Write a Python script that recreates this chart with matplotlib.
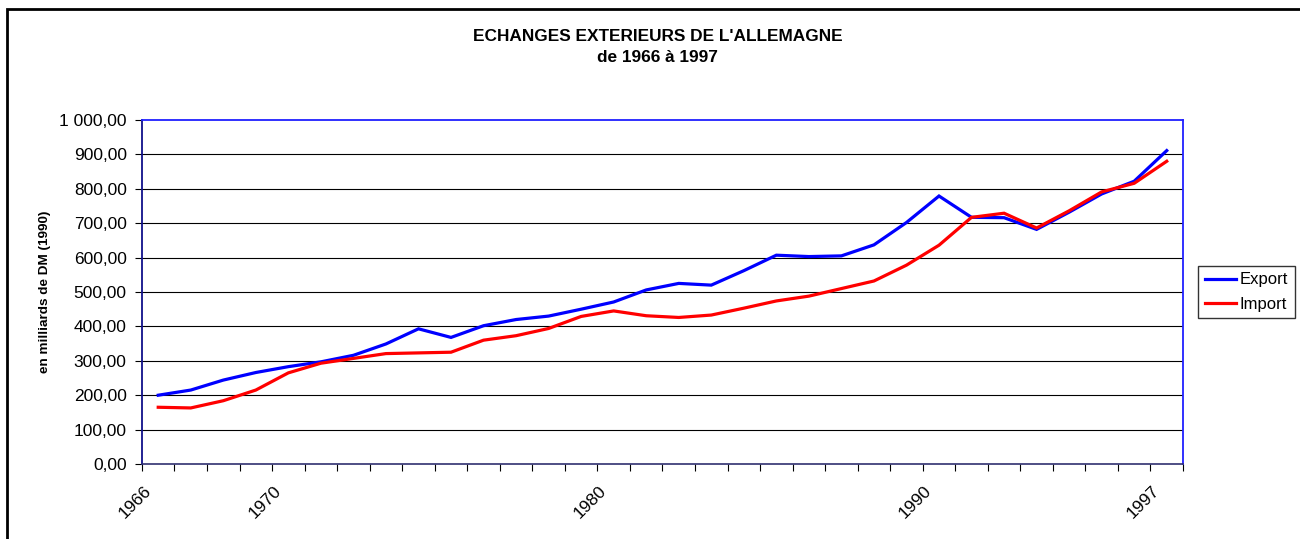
import matplotlib.pyplot as plt
import numpy as np
from matplotlib.patches import Rectangle
from matplotlib.transforms import ScaledTranslation

plt.rcParams['font.family'] = ['Liberation Sans', 'DejaVu Sans']

# data (milliards de DM, 1990)
years = list(range(1966, 1998))
export = [200, 215, 244, 266, 283, 297, 316, 349, 393, 368, 402, 420, 430, 450, 471, 506,
          525, 520, 562, 607, 603, 605, 637, 702, 779, 717, 716, 682, 732, 785, 822, 911]
imports = [165, 163, 184, 215, 265, 293, 307, 321, 323, 325, 360, 373, 394, 429, 445, 431,
           426, 433, 453, 474, 488, 510, 532, 578, 636, 717, 729, 686, 736, 791, 816, 880]
shown_years = [1966, 1970, 1980, 1990, 1997]
yticks = [0, 100, 200, 300, 400, 500, 600, 700, 800, 900, 1000]


def fr_fmt(v):
    s = '{:,.2f}'.format(v)
    return s.replace(',', ' ').replace('.', ',')


fig = plt.figure(figsize=(13, 5.39), dpi=100)
ax = fig.add_axes([0.1092, 0.1391, 0.8008, 0.6383])

x = np.arange(len(years)) + 0.5
ax.plot(x, export, color='#0000ff', lw=2.3, label='Export', solid_joinstyle='miter')
ax.plot(x, imports, color='#ff0000', lw=2.3, label='Import', solid_joinstyle='miter')

ax.set_xlim(0, len(years))
ax.set_ylim(0, 1000)

# y axis
ax.set_yticks(yticks)
ax.set_yticklabels([fr_fmt(v) for v in yticks], fontsize=12.5)
ax.tick_params(axis='y', direction='out', length=5, width=0.8, pad=6)
for v in yticks[1:-1]:
    ax.axhline(v, color='black', lw=0.8, zorder=0)

# x axis: marks between categories, labels only on some years
ax.set_xticks(np.arange(0, len(years) + 1), minor=True)
ax.set_xticks([years.index(y) + 0.5 for y in shown_years])
ax.set_xticklabels([str(y) for y in shown_years], rotation=45, ha='right',
                   rotation_mode='anchor', fontsize=12.5)
ax.tick_params(axis='x', which='major', length=0, pad=14)
ax.tick_params(axis='x', which='minor', direction='out', length=5, width=0.8)
shift = ScaledTranslation(-15 / 100, 0, fig.dpi_scale_trans)
for lab in ax.get_xticklabels():
    lab.set_transform(lab.get_transform() + shift)

for s in ['top', 'right']:
    ax.spines[s].set_color('#2020ff')
    ax.spines[s].set_linewidth(1.3)
ax.spines['left'].set_color('#10108a')
ax.spines['left'].set_linewidth(1.3)
ax.spines['bottom'].set_color('#303070')
ax.spines['bottom'].set_linewidth(1.2)

ax.set_ylabel('en milliards de DM (1990)', fontsize=9.7, fontweight='bold')
ax.yaxis.set_label_coords(-0.087, 0.5)

fig.text(0.506, 0.933, "ECHANGES EXTERIEURS DE L'ALLEMAGNE", ha='center', va='center',
         fontsize=12.4, fontweight='bold')
fig.text(0.506, 0.894, 'de 1966 à 1997', ha='center', va='center',
         fontsize=12.4, fontweight='bold')

leg = ax.legend(loc='center left', bbox_to_anchor=(1.0144, 0.5), fontsize=12,
                frameon=True, fancybox=False, handlelength=1.9, handletextpad=0.2,
                borderpad=0.4, labelspacing=0.55, borderaxespad=0)
leg.get_frame().set_edgecolor('black')
leg.get_frame().set_linewidth(1.0)

# outer chart border (only left and top edges are visible in the crop)
fig.patches.append(Rectangle((7 / 1300, -0.1), 1.2, (539 - 9) / 539 + 0.1,
                             transform=fig.transFigure, fill=False,
                             edgecolor='black', lw=2))

fig.savefig('out.png', dpi=100)
